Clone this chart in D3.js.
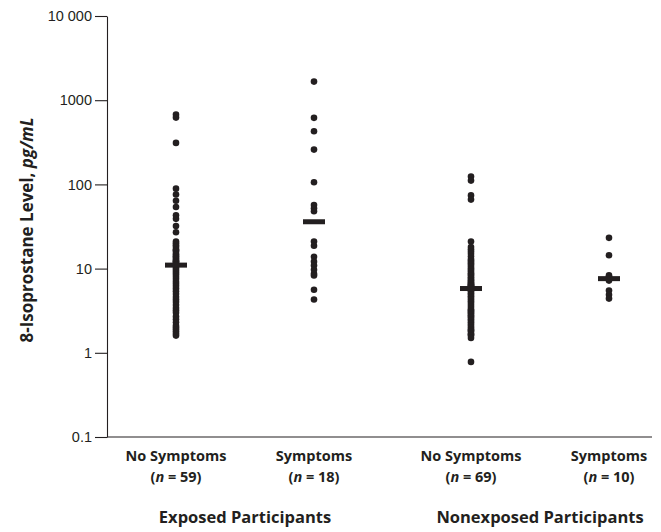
<!DOCTYPE html>
<html>
<head>
<meta charset="utf-8">
<script src="https://cdn.jsdelivr.net/npm/d3@7"></script>
<style>
  body { margin: 0; background: #fff; }
  text { font-family: "Open Sans", sans-serif; fill: #231f20; }
</style>
</head>
<body>
<svg id="chart" width="661" height="532"></svg>
<script>
// categories
let groups = ["Exposed Participants", "Nonexposed Participants"]
let symptoms = ["No Symptoms", "Symptoms"]
let counts = [59, 18, 69, 10]
let medians = [11, 36, 5.8, 7.6]

// 8-isoprostane level, pg/mL
let exposedNo = [674, 621, 311, 89, 76, 64, 54, 43, 39, 32, 27,
  21, 20, 19, 18, 17, 16.5, 16, 15, 14.5, 14, 13.5, 13, 12.5, 12.2, 12, 11.6, 11.3, 11.1,
  11,
  10.5, 10, 9.5, 9, 8.5, 8, 7.5, 7, 6.6, 6.2, 5.8, 5.4, 5, 4.6, 4.3, 4, 3.7, 3.4, 3.2, 3.0,
  2.7, 2.5, 2.3, 2.1, 2.0, 1.9, 1.8, 1.7, 1.6]
let exposedYes = [1663, 617, 427, 259, 106, 57, 52, 48, 21, 18.7, 13.8, 12.1, 10.9, 9.7, 8.7, 8.3, 5.6, 4.3]
let nonexposedNo = [124, 111, 74, 66, 21,
  18, 17, 16, 15, 14, 13, 12.5, 12, 11.5, 11, 10.5, 10, 9.6, 9.2, 8.8, 8.5, 8.2, 7.9, 7.6, 7.3,
  7.1, 6.9, 6.7, 6.5, 6.4, 6.3, 6.2, 6.1, 6.0,
  5.8,
  5.6, 5.5, 5.3, 5.1, 4.9, 4.7, 4.5, 4.3, 4.1, 3.9, 3.7, 3.5, 3.3, 3.2, 3.1, 3.0, 2.9, 2.8, 2.7,
  2.6, 2.5, 2.4, 2.3, 2.2, 2.1, 2.0, 1.9, 1.85, 1.8, 1.7, 1.65, 1.6, 1.5, 0.78]
let nonexposedYes = [23.2, 14.4, 8.3, 8.0, 7.8, 7.5, 7.2, 5.5, 4.9, 4.4]

let tickValues = [0.1, 1, 10, 100, 1000, 10000]
let tickLabels = ["0.1", "1", "10", "100", "1000", "10 000"]

let series = [exposedNo, exposedYes, nonexposedNo, nonexposedYes]
let columns = []
series.forEach(function (vals, i) {
  columns.push({
    group: groups[Math.floor(i / 2)],
    symptom: symptoms[i % 2],
    n: counts[i],
    median: medians[i],
    values: vals
  })
})

let svg = d3.select("#chart")
let ink = "#231f20"
let plotLeft = 107, plotRight = 652, plotTop = 16, plotBottom = 437

let y = d3.scaleLog().domain([0.1, 10000]).range([plotBottom, plotTop])
let outer = d3.scalePoint().domain(groups).range([245, 540])
let inner = d3.scalePoint().domain(symptoms).range([-69, 69])
let colX = function (d) { return outer(d.group) + inner(d.symptom) }

// y axis
let yAxis = svg.append("g")
  .attr("transform", "translate(" + plotLeft + ",0)")
  .call(d3.axisLeft(y)
    .tickValues(tickValues)
    .tickFormat(function (d, i) { return tickLabels[i] })
    .tickSize(12)
    .tickSizeOuter(0)
    .tickPadding(3))
yAxis.selectAll("path, line").attr("stroke", ink).attr("stroke-width", 1.1)
yAxis.selectAll("text")
  .style("font-family", "'Liberation Sans', Arial, sans-serif")
  .style("font-size", "14.5px")
  .attr("fill", ink)

// baseline
svg.append("line")
  .attr("x1", plotLeft).attr("x2", plotRight)
  .attr("y1", y(0.1)).attr("y2", y(0.1))
  .attr("stroke", ink).attr("stroke-width", 1.1)

// y title
let title = svg.append("text")
  .attr("transform", "translate(33,230) rotate(-90)")
  .attr("text-anchor", "middle")
  .style("font-size", "17px")
  .style("font-weight", "bold")
title.append("tspan").text("8-Isoprostane Level, ")
title.append("tspan").style("font-style", "italic").text("pg/mL")

// dots
let col = svg.selectAll("g.col")
  .data(columns)
  .enter()
  .append("g")
  .attr("class", "col")

col.selectAll("circle")
  .data(function (d) { return d.values.map(function (v) { return { v: v, c: d } }) })
  .enter()
  .append("circle")
  .attr("cx", function (d) { return colX(d.c) })
  .attr("cy", function (d) { return y(d.v) })
  .attr("r", 3.3)
  .attr("fill", ink)

// median bars
col.append("rect")
  .attr("x", function (d) { return colX(d) - 11 })
  .attr("y", function (d) { return y(d.median) - 2.5 })
  .attr("width", 22)
  .attr("height", 5)
  .attr("fill", ink)

// category labels
col.append("text")
  .attr("x", colX)
  .attr("y", 461)
  .attr("text-anchor", "middle")
  .style("font-size", "14.5px")
  .style("font-weight", "bold")
  .text(function (d) { return d.symptom })

let nText = col.append("text")
  .attr("x", colX)
  .attr("y", 482)
  .attr("text-anchor", "middle")
  .style("font-size", "14.5px")
  .style("font-weight", "bold")
nText.append("tspan").text("(")
nText.append("tspan").style("font-style", "italic").text("n")
nText.append("tspan").text(function (d) { return " = " + d.n + ")" })

// group labels
svg.selectAll("text.group")
  .data(groups)
  .enter()
  .append("text")
  .attr("class", "group")
  .attr("x", function (d) { return outer(d) })
  .attr("y", 523)
  .attr("text-anchor", "middle")
  .style("font-size", "16.5px")
  .style("font-weight", "bold")
  .text(function (d) { return d })
</script>
</body>
</html>
